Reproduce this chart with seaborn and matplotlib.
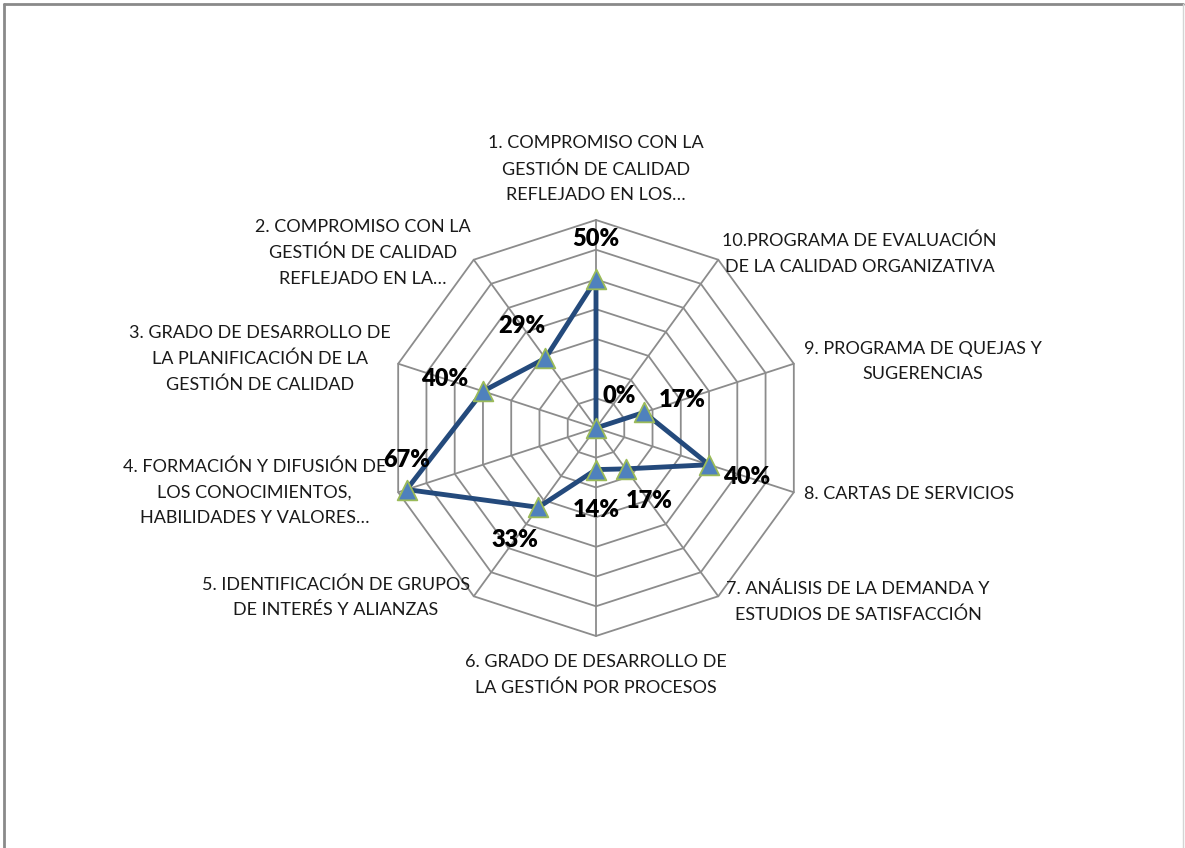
import numpy as np
import matplotlib
matplotlib.use("Agg")
import matplotlib.pyplot as plt
import seaborn as sns
from matplotlib.lines import Line2D

# ---- data -------------------------------------------------------------
categories = [
    "1. COMPROMISO CON LA\nGESTIÓN DE CALIDAD\nREFLEJADO EN LOS…",
    "2. COMPROMISO CON LA\nGESTIÓN DE CALIDAD\nREFLEJADO EN LA…",
    "3. GRADO DE DESARROLLO DE\nLA PLANIFICACIÓN DE LA\nGESTIÓN DE CALIDAD",
    "4. FORMACIÓN Y DIFUSIÓN DE\nLOS CONOCIMIENTOS,\nHABILIDADES Y VALORES…",
    "5. IDENTIFICACIÓN DE GRUPOS\nDE INTERÉS Y ALIANZAS",
    "6. GRADO DE DESARROLLO DE\nLA GESTIÓN POR PROCESOS",
    "7. ANÁLISIS DE LA DEMANDA Y\nESTUDIOS DE SATISFACCIÓN",
    "8. CARTAS DE SERVICIOS",
    "9. PROGRAMA DE QUEJAS Y\nSUGERENCIAS",
    "10.PROGRAMA DE EVALUACIÓN\nDE LA CALIDAD ORGANIZATIVA",
]
values = [0.50, 0.29, 0.40, 0.67, 0.33, 0.14, 0.17, 0.40, 0.17, 0.00]
ring_levels = [0.1, 0.2, 0.3, 0.4, 0.5, 0.6, 0.7]
r_max = 0.7

# ---- style ------------------------------------------------------------
sns.set_theme(style="white")
plt.rcParams["font.family"] = ["Lato", "DejaVu Sans"]

LINE_COLOR = "#244A7C"
MARKER_FILL = "#4F81BD"
MARKER_EDGE = "#9BBB59"
GRID_COLOR = "#8C8C8C"
TEXT_COLOR = "#1a1a1a"

W, H = 1185, 848
fig = plt.figure(figsize=(W / 100, H / 100), dpi=100)

# polar axes centred on the radar, radius in pixels
cx, cy, rad = 596, 428, 208
ax = fig.add_axes([(cx - rad) / W, (H - cy - rad) / H, 2 * rad / W, 2 * rad / H],
                  projection="polar")
ax.set_theta_offset(np.pi / 2)
ax.set_theta_direction(1)
ax.set_ylim(0, r_max)
ax.grid(False)
ax.set_xticks([])
ax.set_yticks([])
ax.spines["polar"].set_visible(False)
ax.patch.set_alpha(0)

n = len(categories)
theta = np.arange(n) * 2 * np.pi / n
theta_closed = np.append(theta, 2 * np.pi)

# decagon grid rings and spokes
for lvl in ring_levels:
    ax.plot(theta_closed, [lvl] * (n + 1), color=GRID_COLOR, lw=1.3,
            clip_on=False, zorder=1)
for t in theta:
    ax.plot([t, t], [0, r_max], color=GRID_COLOR, lw=1.3, clip_on=False, zorder=1)

# data line and markers
vals_closed = values + values[:1]
sns.lineplot(x=theta_closed, y=vals_closed, sort=False, estimator=None, ax=ax,
             color=LINE_COLOR, linewidth=3.5, zorder=3)
sns.scatterplot(x=theta, y=values, marker="^", s=200, color=MARKER_FILL,
                edgecolor=MARKER_EDGE, linewidth=1.3, ax=ax, zorder=4,
                clip_on=False)
ax.set_xlabel("")
ax.set_ylabel("")

# data labels, pushed outward from each point
label_offset = 40
label_override = {3: (0, 30)}
for i, (t, v) in enumerate(zip(theta, values)):
    ang = t + np.pi / 2
    dx, dy = label_override.get(i, (label_offset * np.cos(ang), label_offset * np.sin(ang)))
    ax.annotate(f"{v:.0%}", xy=(t, v), xytext=(dx, dy), textcoords="offset pixels",
                ha="center", va="center", fontsize=17, fontweight="heavy",
                color="black", annotation_clip=False, zorder=5)

# category labels around the outer ring
cat_offsets = [
    (0, 17, "center", "bottom"),
    (-3, 7, "right", "center"),
    (-7, 5, "right", "center"),
    (-12, 0, "right", "center"),
    (-4, -1, "right", "center"),
    (0, -18, "center", "top"),
    (8, -6, "left", "center"),
    (10, -2, "left", "center"),
    (10, 2, "left", "center"),
    (4, 6, "left", "center"),
]
for t, lab, (dx, dy, ha, va) in zip(theta, categories, cat_offsets):
    ax.annotate(lab, xy=(t, r_max), xytext=(dx, dy), textcoords="offset pixels",
                ha=ha, va=va, multialignment="center", fontsize=13.0,
                linespacing=1.72, color=TEXT_COLOR, annotation_clip=False, zorder=5)

# chart-area border
fig.add_artist(Line2D([4 / W, 4 / W], [0, 1 - 4 / H], transform=fig.transFigure,
                      color="#8a8a8a", lw=2))
fig.add_artist(Line2D([4 / W, 1183 / W], [1 - 4 / H, 1 - 4 / H],
                      transform=fig.transFigure, color="#8a8a8a", lw=2))
fig.add_artist(Line2D([1183 / W, 1183 / W], [0, 1 - 4 / H], transform=fig.transFigure,
                      color="#d4d4d4", lw=1))

fig.savefig("out.png", dpi=100, facecolor="white")
